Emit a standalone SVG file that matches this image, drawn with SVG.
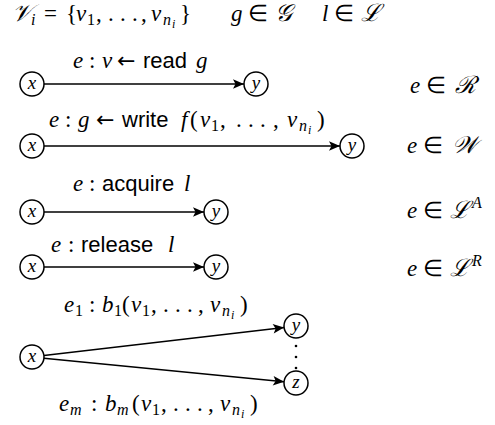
<svg xmlns="http://www.w3.org/2000/svg" width="495" height="425" viewBox="0 0 495 425">
<style>
text { font-family: "Liberation Serif", serif; font-size: 23px; fill: #000; font-style: italic; }
.n { font-style: normal; }
.arr { font-family: "DejaVu Sans", sans-serif; font-style: normal; font-size: 22px; }
.w { font-family: "Liberation Sans", sans-serif; font-style: normal; font-size: 22px; }
.sub { font-size: 16px; }
.sub2 { font-size: 12px; }
.cal { font-family: "DejaVu Serif", "Liberation Serif", serif; font-size: 24px; }
.node circle { fill: #fff; stroke: #000; stroke-width: 1.5; }
.node text { text-anchor: middle; font-size: 19px; }
.edges line { stroke: #000; stroke-width: 1.5; marker-end: url(#ah); }
.dots circle { fill: #000; }
</style>
<defs>
<marker id="ah" markerUnits="userSpaceOnUse" markerWidth="14" markerHeight="12" viewBox="-12 -6 14 12" refX="0" refY="0" orient="auto">
<path d="M-11,-4.8 L0,0 L-11,4.8 L-8.5,0 Z" fill="#000"/>
</marker>
</defs>

<g id="header">
<text y="21"><tspan class="cal" x="12">𝒱</tspan><tspan class="sub" x="31" y="25">i</tspan><tspan class="n" x="44" y="21">=</tspan><tspan class="n" x="66">{</tspan><tspan x="76">v</tspan><tspan class="sub n" x="87" y="25">1</tspan><tspan class="n" x="96" y="21">,</tspan><tspan class="n" x="108">.</tspan><tspan class="n" x="120">.</tspan><tspan class="n" x="132">.</tspan><tspan class="n" x="141">,</tspan><tspan x="151">v</tspan><tspan class="sub" x="163" y="25">n</tspan><tspan class="sub2" x="172" y="28">i</tspan><tspan class="n" x="180" y="21">}</tspan></text>
<text y="21"><tspan x="231">g</tspan><tspan class="n" x="248">∈</tspan><tspan class="cal" x="275">𝒢</tspan></text>
<text y="21"><tspan x="322">l</tspan><tspan class="n" x="334">∈</tspan><tspan class="cal" x="361">ℒ</tspan></text>
</g>

<g id="edges" class="edges">
<line x1="44" y1="84" x2="244" y2="84"/>
<line x1="44" y1="146" x2="340" y2="146"/>
<line x1="44" y1="212" x2="204" y2="212"/>
<line x1="44" y1="267" x2="204" y2="267"/>
<line x1="43.9" y1="355.6" x2="284.1" y2="327.4"/>
<line x1="43.9" y1="358.2" x2="284.1" y2="381.8"/>
</g>

<g id="edge-labels">
<text y="68"><tspan x="73">e</tspan><tspan class="n" x="89">:</tspan><tspan x="102">v</tspan><tspan class="arr" x="117">←</tspan><tspan class="w" x="143">read</tspan><tspan x="196">g</tspan></text>
<text y="127"><tspan x="49">e</tspan><tspan class="n" x="65">:</tspan><tspan x="78">g</tspan><tspan class="arr" x="96">←</tspan><tspan class="w" x="122">write</tspan><tspan x="181">f</tspan><tspan class="n" x="190">(</tspan><tspan x="200">v</tspan><tspan class="sub n" x="211" y="131">1</tspan><tspan class="n" x="220" y="127">,</tspan><tspan class="n" x="236">.</tspan><tspan class="n" x="248">.</tspan><tspan class="n" x="260">.</tspan><tspan class="n" x="273">,</tspan><tspan x="287">v</tspan><tspan class="sub" x="299" y="131">n</tspan><tspan class="sub2" x="308" y="134">i</tspan><tspan class="n" x="317" y="127">)</tspan></text>
<text y="191"><tspan x="73">e</tspan><tspan class="n" x="89">:</tspan><tspan class="w" x="102">acquire</tspan><tspan x="184">l</tspan></text>
<text y="252"><tspan x="51">e</tspan><tspan class="n" x="68">:</tspan><tspan class="w" x="81">release</tspan><tspan x="168">l</tspan></text>
<text y="312"><tspan x="64">e</tspan><tspan class="sub n" x="75" y="316">1</tspan><tspan class="n" x="89" y="312">:</tspan><tspan x="102">b</tspan><tspan class="sub n" x="114" y="316">1</tspan><tspan class="n" x="122" y="312">(</tspan><tspan x="131">v</tspan><tspan class="sub n" x="142" y="316">1</tspan><tspan class="n" x="151" y="312">,</tspan><tspan class="n" x="163">.</tspan><tspan class="n" x="175">.</tspan><tspan class="n" x="187">.</tspan><tspan class="n" x="198">,</tspan><tspan x="210">v</tspan><tspan class="sub" x="222" y="316">n</tspan><tspan class="sub2" x="231" y="319">i</tspan><tspan class="n" x="240" y="312">)</tspan></text>
<text y="411"><tspan x="59">e</tspan><tspan class="sub" x="70" y="415">m</tspan><tspan class="n" x="91" y="411">:</tspan><tspan x="105">b</tspan><tspan class="sub" x="117" y="415">m</tspan><tspan class="n" x="132" y="411">(</tspan><tspan x="141">v</tspan><tspan class="sub n" x="152" y="415">1</tspan><tspan class="n" x="161" y="411">,</tspan><tspan class="n" x="173">.</tspan><tspan class="n" x="185">.</tspan><tspan class="n" x="197">.</tspan><tspan class="n" x="208">,</tspan><tspan x="220">v</tspan><tspan class="sub" x="232" y="415">n</tspan><tspan class="sub2" x="241" y="418">i</tspan><tspan class="n" x="250" y="411">)</tspan></text>
</g>

<g id="sets">
<text y="93"><tspan x="410">e</tspan><tspan class="n" x="426">∈</tspan><tspan class="cal" x="455">ℛ</tspan></text>
<text y="153"><tspan x="407">e</tspan><tspan class="n" x="423">∈</tspan><tspan class="cal" x="452">𝒲</tspan></text>
<text y="218"><tspan x="407">e</tspan><tspan class="n" x="423">∈</tspan><tspan class="cal" x="450">ℒ</tspan><tspan class="sub" x="472" y="208">A</tspan></text>
<text y="276"><tspan x="407">e</tspan><tspan class="n" x="423">∈</tspan><tspan class="cal" x="450">ℒ</tspan><tspan class="sub" x="472" y="266">R</tspan></text>
</g>

<g id="n1x" class="node"><circle cx="32" cy="84" r="12"/><text x="32" y="89">x</text></g>
<g id="n1y" class="node"><circle cx="256" cy="84" r="12"/><text x="256" y="89">y</text></g>
<g id="n2x" class="node"><circle cx="32" cy="146" r="12"/><text x="32" y="151">x</text></g>
<g id="n2y" class="node"><circle cx="352" cy="146" r="12"/><text x="352" y="151">y</text></g>
<g id="n3x" class="node"><circle cx="32" cy="212" r="12"/><text x="32" y="217">x</text></g>
<g id="n3y" class="node"><circle cx="216" cy="212" r="12"/><text x="216" y="217">y</text></g>
<g id="n4x" class="node"><circle cx="32" cy="267" r="12"/><text x="32" y="272">x</text></g>
<g id="n4y" class="node"><circle cx="216" cy="267" r="12"/><text x="216" y="272">y</text></g>
<g id="n5x" class="node"><circle cx="32" cy="357" r="12"/><text x="32" y="362">x</text></g>
<g id="n5y" class="node"><circle cx="296" cy="326" r="12"/><text x="296" y="331">y</text></g>
<g id="n5z" class="node"><circle cx="296" cy="383" r="12"/><text x="296" y="388">z</text></g>
<g id="vdots" class="dots">
<circle cx="296" cy="346" r="1.3"/><circle cx="296" cy="357" r="1.3"/><circle cx="296" cy="368" r="1.3"/>
</g>
</svg>
